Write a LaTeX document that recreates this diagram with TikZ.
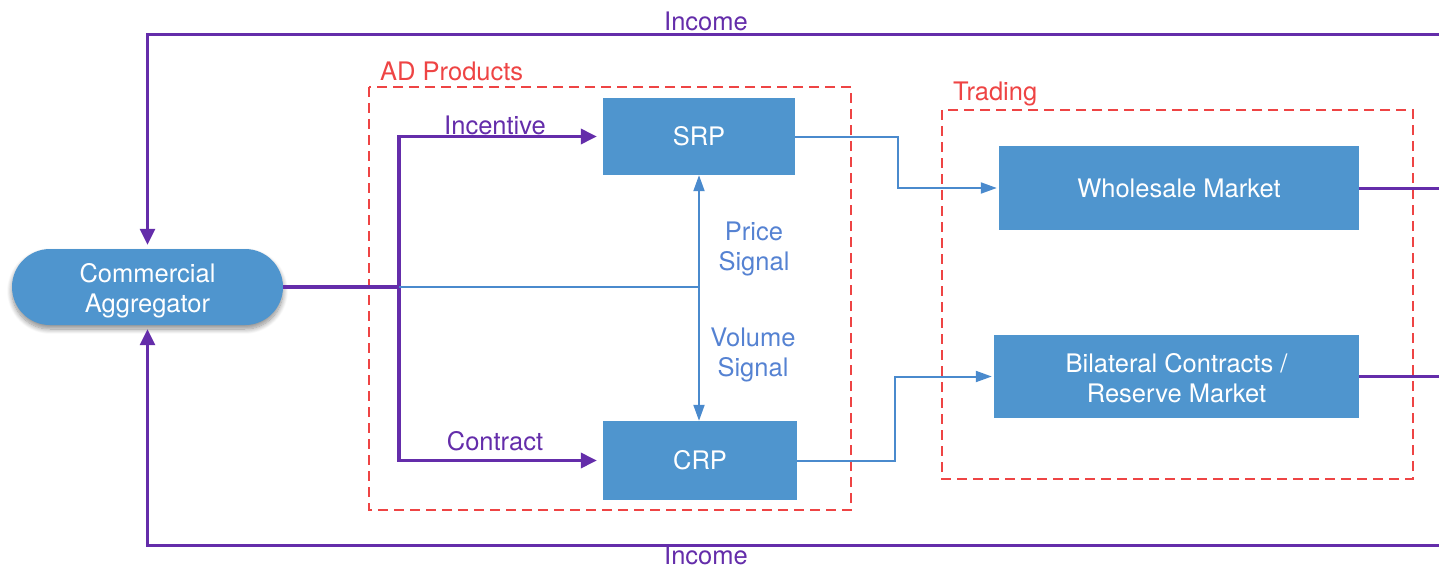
\documentclass[tikz,border=0pt]{standalone}
\usepackage{fontspec}
\setmainfont{TeX Gyre Heros}
\usetikzlibrary{arrows.meta,shadows.blur,calc}
\definecolor{boxblue}{RGB}{79,149,206}
\definecolor{purp}{RGB}{100,45,170}
\definecolor{redd}{RGB}{238,68,68}
\definecolor{lblue}{RGB}{74,138,205}
\definecolor{sblue}{RGB}{85,130,210}
\begin{document}
\begin{tikzpicture}[x=1pt,y=-1pt,
  font=\fontsize{25.5}{30}\selectfont,
  box/.style={fill=boxblue,text=white,inner sep=0pt,align=center},
  group/.style={draw=redd,line width=2pt,dash pattern=on 10pt off 6pt},
  pline/.style={draw=purp,line width=3.5pt},
  oline/.style={draw=purp,line width=3pt},
  bline/.style={draw=lblue,line width=2pt},
  ptip/.style={-{Triangle[length=16pt,width=15pt]}},
  btip/.style={-{Triangle[length=16pt,width=11pt]}},
  lab/.style={inner sep=0pt,align=center}]
\useasboundingbox (0,0) rectangle (1439,567);
% groups
\draw[group] (369,87) rectangle (851,510);
\draw[group] (942,110) rectangle (1413,479);
\node[lab,text=redd,anchor=west] (adl) at (380,71) {AD Products};
\node[lab,text=redd,anchor=west] (trl) at (953,94) {Trading};
% boxes
\node[box,rounded corners=38pt,minimum width=271pt,minimum height=76pt,
  blur shadow={shadow xshift=0pt,shadow yshift=-4pt,shadow blur radius=5pt,shadow blur steps=10,shadow opacity=45}]
  (agg) at (147.5,287) {\raisebox{-9.5pt}[0pt][0pt]{\parbox{200pt}{\centering Commercial\\Aggregator}}};
\node[box,minimum width=192pt,minimum height=77pt] (srp) at (699,136.5) {SRP};
\node[box,minimum width=194pt,minimum height=79pt] (crp) at (700,460.5) {CRP};
\node[box,minimum width=360pt,minimum height=84pt] (wm) at (1179,188) {Wholesale Market};
\node[box,minimum width=365pt,minimum height=83pt] (bc) at (1176.5,376.5) {\raisebox{-7.5pt}[0pt][0pt]{\parbox{300pt}{\centering Bilateral Contracts /\\Reserve Market}}};
% coordinates
\coordinate (j) at (399,287);
\coordinate (jb) at (699,287);
\coordinate (tr) at (1439,35);
\coordinate (br) at (1439,545);
\coordinate (wr) at (1439,188);
\coordinate (bcr) at (1439,376.5);
% outer income loops
\draw[oline,ptip,shorten >=4pt] (tr) -| (agg.north);
\draw[oline,ptip,shorten >=4pt] (br) -| (agg.south);
\node[lab,text=purp] (inc1) at (706,21) {Income};
\node[lab,text=purp] (inc2) at (706,555) {Income};
% purple inner
\draw[pline] (agg.east) -- (j);
\draw[pline,ptip,shorten >=6pt] (j) |- (srp.west);
\draw[pline,ptip,shorten >=6pt] (j) |- (crp.west);
\node[lab,text=purp] (incv) at (495,125) {Incentive};
\node[lab,text=purp] (cont) at (495,441) {Contract};
% blue signal
\draw[bline] (j) -- (jb);
\draw[bline,{Triangle[length=16pt,width=11pt]}-{Triangle[length=16pt,width=11pt]}] (srp.south) -- (srp.south |- crp.north);
\node[lab,text=sblue] (ps) at (754,249) {Price\\Signal};
\node[lab,text=sblue] (vs) at (753,355) {Volume\\Signal};
% to trading
\draw[bline,btip,shorten >=2pt] (srp.east) -- (898,136.5) |- (wm.west);
\draw[bline,btip,shorten >=2pt] (crp.east) -- (895,460.5) |- (bc.west);
% out of trading
\draw[oline] (wm.east) -- (wr);
\draw[oline] (bc.east) -- (bcr);
\end{tikzpicture}
\end{document}
